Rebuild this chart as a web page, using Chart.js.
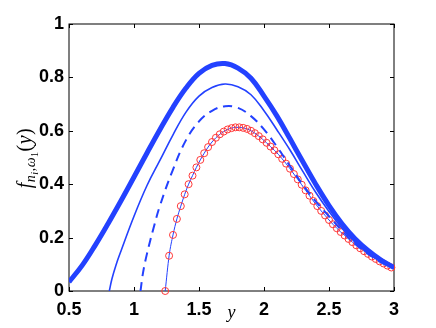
<!DOCTYPE html>
<html>
<head>
<meta charset="utf-8">
<script src="https://cdn.jsdelivr.net/npm/chart.js@4/dist/chart.umd.min.js"></script>
<style>
  html, body { margin: 0; padding: 0; background: #fff; }
  #wrap { width: 436px; height: 328px; }
</style>
</head>
<body>
<div id="wrap"><canvas id="chart" width="436" height="328"></canvas></div>
<script>
// values
const thickX = [0.5,0.6,0.7,0.8,0.9,1.0,1.1,1.2,1.3,1.4,1.5,1.6,1.7,1.8,1.9,2.0,2.1,2.2,2.3,2.4,2.5,2.6,2.7,2.8,2.9,3.0];
const thickY = [0.034,0.095,0.17,0.252,0.338,0.427,0.517,0.605,0.688,0.76,0.815,0.845,0.852,0.835,0.797,0.73,0.655,0.57,0.483,0.398,0.32,0.252,0.196,0.152,0.116,0.088];

const thinX = [0.81,0.83,0.86,0.9,1.0,1.1,1.2,1.3,1.4,1.5,1.6,1.7,1.8,1.9,2.0,2.1,2.2,2.3,2.4,2.5,2.6,2.7,2.8,2.9,3.0];
const thinY = [0,0.045,0.095,0.15,0.28,0.395,0.49,0.585,0.67,0.73,0.762,0.775,0.765,0.735,0.675,0.603,0.528,0.447,0.368,0.298,0.235,0.183,0.142,0.11,0.086];

const dashX = [1.05,1.07,1.1,1.15,1.2,1.3,1.4,1.5,1.6,1.7,1.8,1.9,2.0,2.1,2.2,2.3,2.4,2.5,2.6,2.7,2.8,2.9,3.0];
const dashY = [0,0.07,0.14,0.235,0.32,0.455,0.565,0.635,0.675,0.692,0.686,0.655,0.605,0.54,0.468,0.397,0.335,0.28,0.226,0.177,0.139,0.107,0.085];

const circX = [1.24,1.27,1.30,1.33,1.36,1.39,1.42,1.45,1.48,1.51,1.54,1.57,1.60,1.63,1.66,1.69,1.72,1.75,1.78,1.81,
  1.84,1.87,1.90,1.93,1.96,1.99,2.02,2.05,2.08,2.11,2.14,2.17,2.20,2.23,2.26,2.29,2.32,2.35,2.38,2.41,
  2.44,2.47,2.50,2.53,2.56,2.59,2.62,2.65,2.68,2.71,2.74,2.77,2.80,2.83,2.86,2.89,2.92,2.95,2.98];
const circY = [0,0.132,0.21,0.27,0.318,0.362,0.40,0.432,0.463,0.491,0.516,0.539,0.558,0.574,0.587,0.597,0.605,0.610,0.613,0.613,
  0.611,0.607,0.600,0.591,0.580,0.568,0.555,0.541,0.527,0.512,0.495,0.477,0.458,0.438,0.418,0.398,0.377,0.357,0.337,0.318,
  0.300,0.283,0.266,0.250,0.235,0.221,0.208,0.195,0.183,0.171,0.160,0.149,0.139,0.129,0.120,0.111,0.103,0.095,0.088];

const xTicks = [0.5,1,1.5,2,2.5,3];
const yTicks = [0,0.2,0.4,0.6,0.8,1];

const BLUE = 'rgb(35,65,255)';
const RED = 'rgb(255,55,55)';

function pts(xs, ys) {
    return xs.map((x, i) => ({ x: x, y: ys[i] }));
}

// box round the plot with inward ticks on all four sides
const frame = {
    id: 'frame',
    beforeDatasetsDraw(chart) {
        const { ctx, chartArea: a, scales } = chart;
        ctx.save();
        ctx.strokeStyle = '#000';
        ctx.lineWidth = 1;
        ctx.strokeRect(a.left, a.top, a.right - a.left, a.bottom - a.top);
        ctx.beginPath();
        xTicks.forEach(v => {
            const px = Math.round(scales.x.getPixelForValue(v)) + 0.5;
            ctx.moveTo(px, a.bottom); ctx.lineTo(px, a.bottom - 4);
            ctx.moveTo(px, a.top); ctx.lineTo(px, a.top + 4);
        });
        yTicks.forEach(v => {
            const py = Math.round(scales.y.getPixelForValue(v)) + 0.5;
            ctx.moveTo(a.left, py); ctx.lineTo(a.left + 4, py);
            ctx.moveTo(a.right, py); ctx.lineTo(a.right - 4, py);
        });
        ctx.stroke();
        ctx.restore();
    },
    afterDraw(chart) {
        const { ctx, chartArea: a } = chart;
        ctx.save();
        ctx.fillStyle = '#000';
        ctx.textBaseline = 'alphabetic';
        // x label
        ctx.font = 'italic 18px "Liberation Serif"';
        ctx.textAlign = 'center';
        ctx.fillText('y', (a.left + a.right) / 2, 318);
        // y label, rotated
        ctx.translate(31, 158);
        ctx.rotate(-Math.PI / 2);
        const parts = [
            ['f', 'italic 20px "Liberation Serif"', 0],
            ['n', 'italic 14px "Liberation Serif"', 4],
            ['i', 'italic 10px "Liberation Serif"', 7],
            [',', '14px "Liberation Serif"', 4],
            ['ω', 'italic 14px "Liberation Serif"', 4],
            ['1', '10px "Liberation Serif"', 7],
            ['(', '20px "Liberation Serif"', 0],
            ['y', 'italic 20px "Liberation Serif"', 0],
            [')', '20px "Liberation Serif"', 0]
        ];
        let w = 0;
        parts.forEach(p => { ctx.font = p[1]; w += ctx.measureText(p[0]).width + 0.5; });
        let cx = -w / 2;
        ctx.textAlign = 'left';
        parts.forEach(p => {
            ctx.font = p[1];
            ctx.fillText(p[0], cx, p[2]);
            cx += ctx.measureText(p[0]).width + 0.5;
        });
        ctx.restore();
    }
};

const tickFont = { family: '"Liberation Sans", Arial, sans-serif', size: 18, weight: 'bold' };
const fmt = v => String(+v.toFixed(1));

new Chart(document.getElementById('chart'), {
    type: 'scatter',
    data: {
        datasets: [
            {
                data: pts(thickX, thickY), showLine: true, borderColor: BLUE, borderWidth: 5,
                pointRadius: 0, tension: 0.4
            },
            {
                data: pts(thinX, thinY), showLine: true, borderColor: BLUE, borderWidth: 1.6,
                pointRadius: 0, tension: 0.4
            },
            {
                data: pts(dashX, dashY), showLine: true, borderColor: BLUE, borderWidth: 2,
                borderDash: [9, 6], pointRadius: 0, tension: 0.4
            },
            {
                data: pts(circX, circY), showLine: true, borderColor: BLUE, borderWidth: 1,
                cubicInterpolationMode: 'monotone', clip: 8,
                pointRadius: 3.5, pointBorderColor: RED, pointBackgroundColor: 'rgba(255,255,255,0)',
                pointBorderWidth: 1
            }
        ]
    },
    options: {
        responsive: false,
        animation: false,
        layout: { padding: { top: 24, right: 42, left: 0, bottom: 0 } },
        plugins: { legend: { display: false }, tooltip: { enabled: false } },
        scales: {
            x: {
                type: 'linear', min: 0.5, max: 3,
                afterFit: s => { s.height = 37; },
                afterBuildTicks: s => { s.ticks = xTicks.map(v => ({ value: v })); },
                grid: { display: false, drawTicks: false },
                border: { display: false },
                ticks: { color: '#000', font: tickFont, padding: 8, maxRotation: 0, callback: fmt }
            },
            y: {
                type: 'linear', min: 0, max: 1,
                afterFit: s => { s.width = 69; },
                afterBuildTicks: s => { s.ticks = yTicks.map(v => ({ value: v })); },
                grid: { display: false, drawTicks: false },
                border: { display: false },
                ticks: { color: '#000', font: tickFont, padding: 5, callback: fmt }
            }
        }
    },
    plugins: [frame]
});
</script>
</body>
</html>
